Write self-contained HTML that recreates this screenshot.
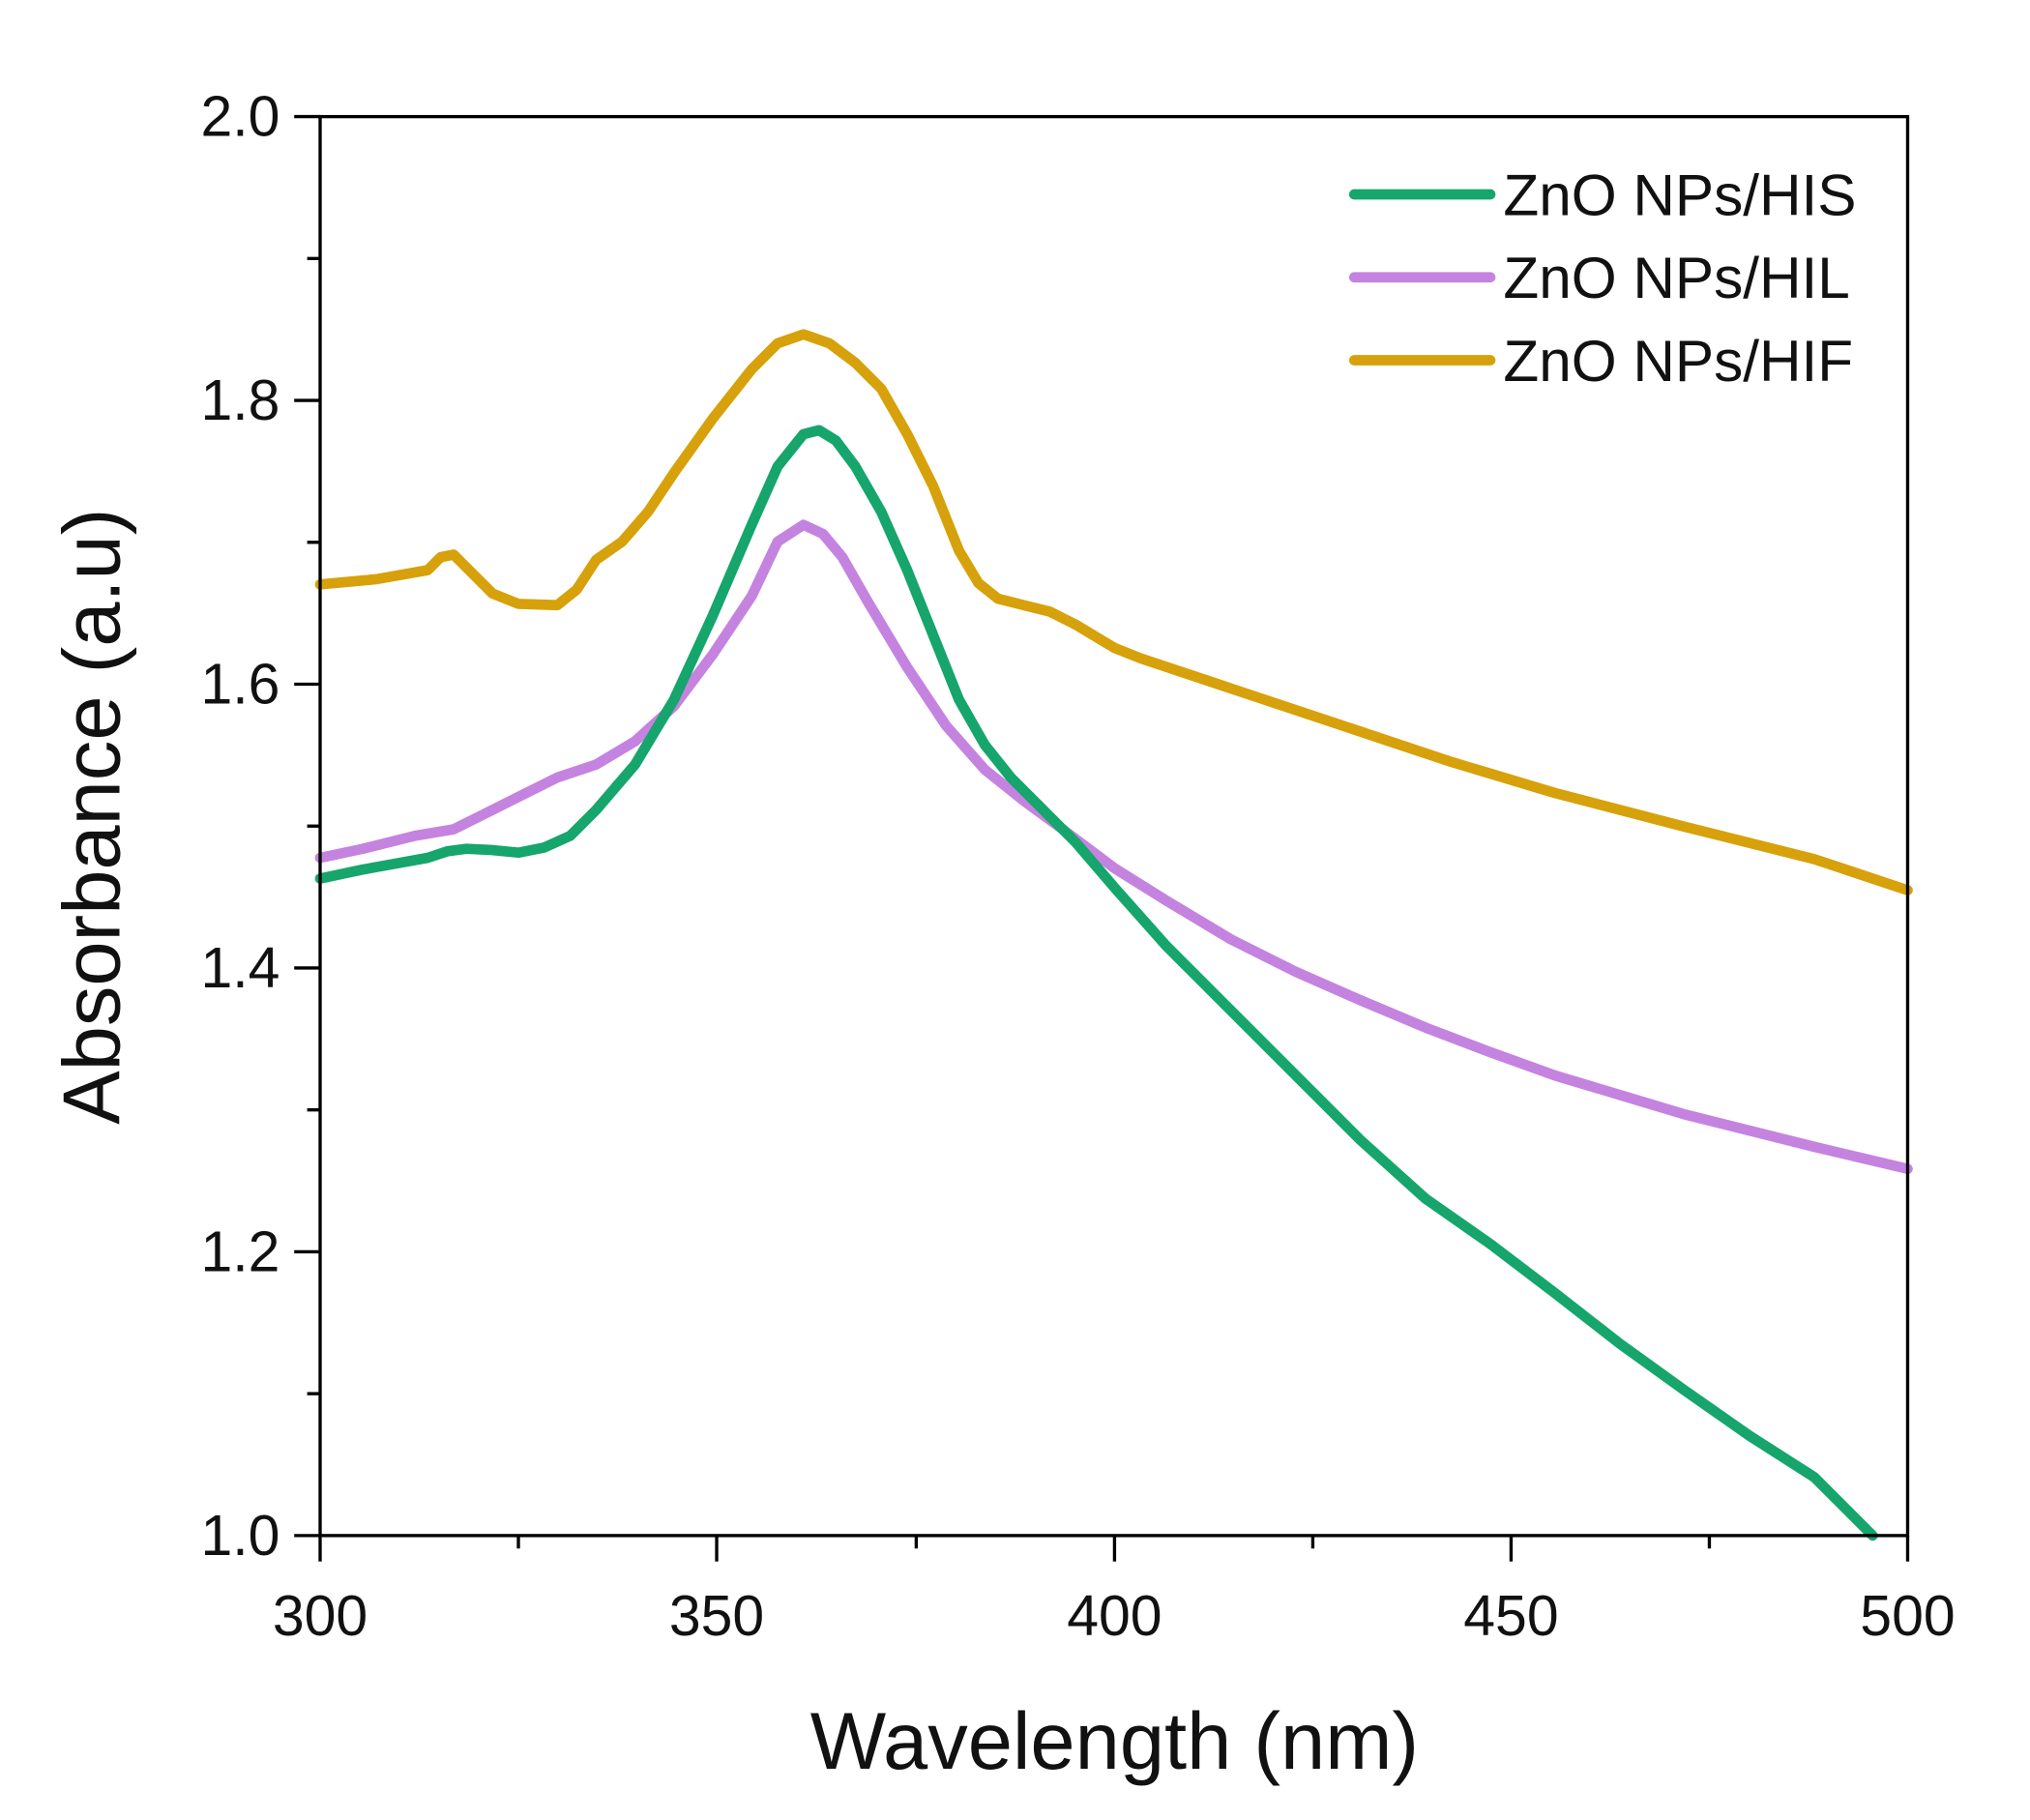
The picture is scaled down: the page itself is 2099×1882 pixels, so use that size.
<!DOCTYPE html>
<html><head><meta charset="utf-8"><style>html,body{margin:0;padding:0;background:#fff}svg{display:block}</style></head><body>
<svg width="2099" height="1882" viewBox="0 0 1566.4 1404.5" xmlns="http://www.w3.org/2000/svg" font-family="'Liberation Sans', Arial, sans-serif">
<rect x="0" y="0" width="1566.4" height="1404.5" fill="#fff"/>
<g fill="none" stroke-linejoin="round" stroke-linecap="round" stroke-width="8">
<polyline stroke="#D6A10A" points="247,451 290,447 330,440 340,430 350,428 360,438 380,458 400,466 430,467 445,455 460,432 480,418 500,395 520,365 550,323 580,285 600,265 620,258 640,265 660,280 680,300 700,335 720,375 740,425 755,450 770,462 790,467 810,472 830,482 860,500 880,508 940,528 1000,548 1060,568 1120,588 1200,612 1300,638 1400,663 1472,687"/>
<polyline stroke="#C583E0" points="247,662 280,655 320,645 350,640 370,630 400,615 430,600 460,590 490,572 520,545 550,505 580,460 600,418 620,405 635,412 650,430 670,465 700,515 730,560 760,594 790,618 820,640 860,670 900,695 950,725 1000,750 1050,772 1100,793 1150,812 1200,830 1300,860 1400,885 1472,902"/>
<polyline stroke="#16A56C" points="247,678 280,671 330,662 345,657 360,655 380,656 400,658 420,654 440,645 460,625 490,590 520,540 550,475 580,405 600,360 620,335 632,332 645,340 660,360 680,395 700,440 720,490 740,540 760,575 780,600 800,620 830,650 860,685 900,730 950,780 1000,830 1050,880 1100,925 1150,960 1200,998 1250,1037 1300,1073 1350,1108 1400,1140 1445,1185"/>
</g>
<rect x="247" y="90" width="1225" height="1095" fill="none" stroke="#000" stroke-width="2.5"/>
<g stroke="#000" stroke-width="2.5">
<line x1="247" y1="1185" x2="247" y2="1205"/><line x1="553" y1="1185" x2="553" y2="1205"/><line x1="860" y1="1185" x2="860" y2="1205"/><line x1="1166" y1="1185" x2="1166" y2="1205"/><line x1="1472" y1="1185" x2="1472" y2="1205"/>
<line x1="400" y1="1185" x2="400" y2="1195"/><line x1="707" y1="1185" x2="707" y2="1195"/><line x1="1013" y1="1185" x2="1013" y2="1195"/><line x1="1319" y1="1185" x2="1319" y2="1195"/>
<line x1="227" y1="90" x2="247" y2="90"/><line x1="227" y1="309" x2="247" y2="309"/><line x1="227" y1="528" x2="247" y2="528"/><line x1="227" y1="747" x2="247" y2="747"/><line x1="227" y1="966" x2="247" y2="966"/><line x1="227" y1="1185" x2="247" y2="1185"/>
<line x1="237" y1="199.5" x2="247" y2="199.5"/><line x1="237" y1="418.5" x2="247" y2="418.5"/><line x1="237" y1="637.5" x2="247" y2="637.5"/><line x1="237" y1="856.5" x2="247" y2="856.5"/><line x1="237" y1="1075.5" x2="247" y2="1075.5"/>
</g>
<g font-size="44" fill="#111" text-anchor="end">
<text x="216" y="105">2.0</text><text x="216" y="324">1.8</text><text x="216" y="543">1.6</text><text x="216" y="762">1.4</text><text x="216" y="981">1.2</text><text x="216" y="1200">1.0</text>
</g>
<g font-size="44" fill="#111" text-anchor="middle">
<text x="247" y="1262">300</text><text x="553" y="1262">350</text><text x="860" y="1262">400</text><text x="1166" y="1262">450</text><text x="1472" y="1262">500</text>
</g>
<text x="860" y="1365" font-size="62" text-anchor="middle" fill="#111">Wavelength (nm)</text>
<text transform="translate(92,630) rotate(-90)" font-size="62" text-anchor="middle" fill="#111">Absorbance (a.u)</text>
<g stroke-width="8" stroke-linecap="round">
<line x1="1045" y1="150" x2="1150" y2="150" stroke="#16A56C"/>
<line x1="1045" y1="214" x2="1150" y2="214" stroke="#C583E0"/>
<line x1="1045" y1="278" x2="1150" y2="278" stroke="#D6A10A"/>
</g>
<g font-size="45" fill="#111">
<text x="1160" y="166">ZnO NPs/HIS</text><text x="1160" y="230">ZnO NPs/HIL</text><text x="1160" y="294">ZnO NPs/HIF</text>
</g>
</svg>
</body></html>
